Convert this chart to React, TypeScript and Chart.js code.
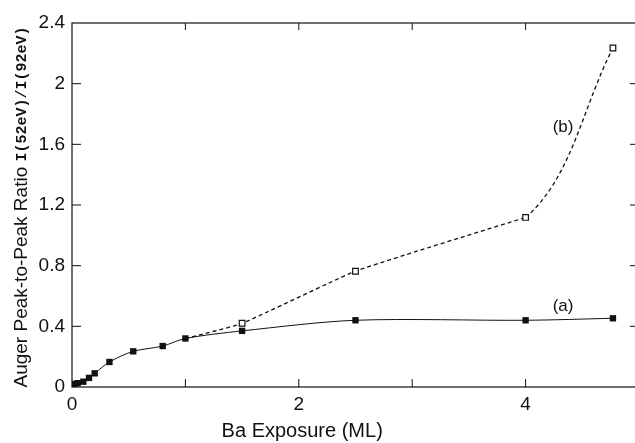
import React, { useEffect, useRef } from "react";
import { Chart, registerables } from "chart.js";

Chart.register(...registerables);

// Curve (a): filled squares
const exposureA = [0.02, 0.05, 0.1, 0.15, 0.2, 0.33, 0.54, 0.8, 1.0, 1.5, 2.5, 4.0, 4.77];
const ratioA = [0.02, 0.025, 0.035, 0.06, 0.09, 0.165, 0.235, 0.27, 0.32, 0.37, 0.44, 0.44, 0.453];

// Curve (b): open squares (branches off curve (a) at 1 ML)
const exposureB = [1.0, 1.5, 2.5, 4.0, 4.77];
const ratioB = [0.32, 0.42, 0.763, 1.118, 2.235];
const markerB = [false, true, true, true, true];

const xTickValues = [0, 1, 2, 3, 4];
const xTickLabels = ["0", "", "2", "", "4"];
const yTickValues = [0, 0.4, 0.8, 1.2, 1.6, 2.0, 2.4];
const yTickLabels = ["0", "0.4", "0.8", "1.2", "1.6", "2", "2.4"];

const curveLabels = ["(a)", "(b)"];
const curveLabelX = [4.33, 4.33];
const curveLabelY = [0.53, 1.71];

const xTitle = "Ba Exposure (ML)";
const yTitleMain = "Auger Peak-to-Peak Ratio ";
const yTitleRatio = "I(52eV)/I(92eV)";

const SANS = "'Liberation Sans', Arial, sans-serif";
const MONO = "'Liberation Mono', 'DejaVu Sans Mono', monospace";
const INK = "#111";

export default function App() {
  const ref = useRef<HTMLCanvasElement>(null);

  useEffect(() => {
    const canvas = ref.current;
    if (!canvas) return;

    const framePlugin = {
      id: "frameAndText",
      afterDraw(chart: any) {
        const { ctx, chartArea: a, scales } = chart;
        const xs = scales.x;
        const ys = scales.y;
        ctx.save();
        ctx.setLineDash([]);
        ctx.strokeStyle = INK;
        ctx.lineWidth = 1.2;
        ctx.strokeRect(a.left, a.top, a.right - a.left, a.bottom - a.top);
        ctx.lineWidth = 1;
        ctx.beginPath();
        for (const v of xTickValues) {
          if (v === 0) continue;
          const px = xs.getPixelForValue(v);
          ctx.moveTo(px, a.bottom);
          ctx.lineTo(px, a.bottom - 8);
          ctx.moveTo(px, a.top);
          ctx.lineTo(px, a.top + 7);
        }
        for (const v of yTickValues) {
          if (v === 0 || v === 2.4) continue;
          const py = ys.getPixelForValue(v);
          ctx.moveTo(a.left, py);
          ctx.lineTo(a.left + 9, py);
          ctx.moveTo(a.right, py);
          ctx.lineTo(a.right - 9, py);
        }
        ctx.stroke();

        // curve labels
        ctx.fillStyle = INK;
        ctx.font = `17px ${SANS}`;
        ctx.textAlign = "center";
        ctx.textBaseline = "middle";
        curveLabels.forEach((t, i) => {
          ctx.fillText(t, xs.getPixelForValue(curveLabelX[i]), ys.getPixelForValue(curveLabelY[i]));
        });

        // x title
        ctx.font = `20px ${SANS}`;
        ctx.fillText(xTitle, xs.getPixelForValue(2.03), a.bottom + 44);

        // y title (mixed fonts)
        ctx.save();
        ctx.translate(22, (a.top + a.bottom) / 2 + 2);
        ctx.rotate(-Math.PI / 2);
        ctx.textAlign = "left";
        const f1 = `19px ${SANS}`;
        const f2 = `bold 15px ${MONO}`;
        ctx.font = f1;
        const w1 = ctx.measureText(yTitleMain).width;
        ctx.font = f2;
        const w2 = ctx.measureText(yTitleRatio).width;
        const start = -(w1 + w2) / 2;
        ctx.font = f1;
        ctx.fillText(yTitleMain, start, 0);
        ctx.font = f2;
        ctx.fillText(yTitleRatio, start + w1, 0);
        ctx.restore();

        ctx.restore();
      },
    };

    const ptsB = exposureB.map((x, i) => ({ x, y: ratioB[i] }));
    const lowerB = ptsB.slice(0, 4);
    const upperB = ptsB.slice(2);

    const chart = new Chart(canvas, {
      type: "line",
      data: {
        datasets: [
          {
            label: "(b) markers",
            data: ptsB,
            showLine: false,
            order: 0,
            pointStyle: "rect",
            pointRadius: markerB.map((m) => (m ? 4 : 0)),
            pointBorderWidth: 1.2,
            pointBorderColor: INK,
            pointBackgroundColor: "#fff",
          },
          {
            label: "(b) upper",
            data: upperB,
            order: 1,
            borderColor: INK,
            borderWidth: 1.3,
            borderDash: [4, 3],
            pointRadius: 0,
            tension: 0.35,
            fill: false,
            segment: {
              borderColor: (c: any) => (c.p0DataIndex === 0 ? "rgba(0,0,0,0)" : INK),
            },
          },
          {
            label: "(b)",
            data: lowerB,
            order: 1,
            borderColor: INK,
            borderWidth: 1.3,
            borderDash: [4, 3],
            pointRadius: 0,
            tension: 0.15,
            fill: false,
          },
          {
            label: "(a)",
            data: exposureA.map((x, i) => ({ x, y: ratioA[i] })),
            order: 1,
            borderColor: INK,
            borderWidth: 1,
            backgroundColor: INK,
            pointStyle: "rect",
            pointRadius: 4.5,
            pointBorderWidth: 0,
            pointBackgroundColor: INK,
            tension: 0.3,
            fill: false,
          },
        ],
      },
      options: {
        responsive: false,
        animation: false,
        events: [],
        layout: { padding: { top: 23, right: 6, bottom: 0, left: 0 } },
        plugins: {
          legend: { display: false },
          tooltip: { enabled: false },
        },
        scales: {
          x: {
            type: "linear",
            min: 0,
            max: 5,
            afterBuildTicks: (s: any) => {
              s.ticks = xTickValues.map((v) => ({ value: v }));
            },
            afterFit: (s: any) => {
              s.height = 56;
            },
            ticks: {
              autoSkip: false,
              maxRotation: 0,
              padding: 6,
              color: INK,
              font: { family: SANS, size: 19 },
              callback: (_v: any, i: number) => xTickLabels[i],
            },
            grid: { display: false, drawTicks: false },
            border: { display: false },
          },
          y: {
            type: "linear",
            min: 0,
            max: 2.4,
            afterBuildTicks: (s: any) => {
              s.ticks = yTickValues.map((v) => ({ value: v }));
            },
            afterFit: (s: any) => {
              s.width = 72;
            },
            ticks: {
              autoSkip: false,
              padding: 7,
              color: INK,
              font: { family: SANS, size: 19 },
              callback: (_v: any, i: number) => yTickLabels[i],
            },
            grid: { display: false, drawTicks: false },
            border: { display: false },
          },
        },
      },
      plugins: [framePlugin],
    });

    return () => chart.destroy();
  }, []);

  return (
    <div
      style={{
        position: "fixed",
        left: 0,
        top: 0,
        width: 635,
        height: 443,
        overflow: "hidden",
        background: "#fff",
      }}
    >
      <canvas ref={ref} width={645} height={443} style={{ display: "block" }} />
    </div>
  );
}
